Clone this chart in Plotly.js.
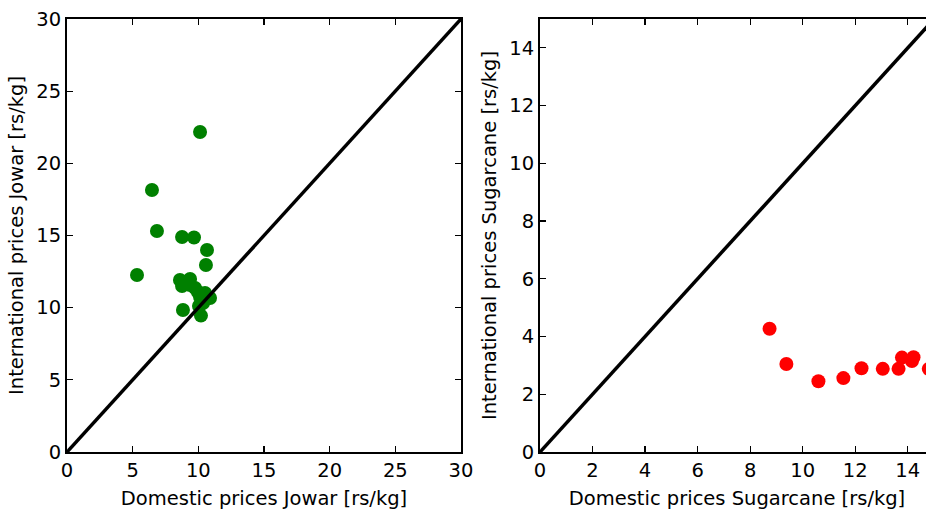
<!DOCTYPE html>
<html>
<head>
<meta charset="utf-8">
<script src="https://cdn.plot.ly/plotly-3.0.1.min.js"></script>
<style>
html, body { margin:0; padding:0; overflow:hidden; background:#fff; width:926px; height:510px; }
#chart { width:1000px; height:510px; }
</style>
</head>
<body>
<div id="chart"></div>
<script>
// Jowar: domestic vs international prices [rs/kg]
const jowarDomestic = [10.13, 6.47, 6.85, 8.76, 9.67, 10.66, 10.58, 5.33,
  8.60, 9.37, 8.76, 9.37, 9.75, 9.97, 10.51, 10.89, 10.13, 10.36, 10.05, 8.83, 10.20];
const jowarInternational = [22.17, 18.15, 15.31, 14.90, 14.86, 14.00, 12.96, 12.26,
  11.92, 11.99, 11.50, 11.57, 11.36, 11.09, 11.02, 10.67, 10.74, 10.32, 10.12, 9.84, 9.45];

// Sugarcane: domestic vs international prices [rs/kg]
const sugarDomestic = [8.74, 9.38, 10.60, 11.55, 12.24, 13.05, 13.65, 13.78, 14.22, 14.16, 14.80];
const sugarInternational = [4.27, 3.05, 2.45, 2.56, 2.90, 2.88, 2.88, 3.27, 3.28, 3.15, 2.88];

// parity line (y = x) across each axis range
const jowarParity = [0, 30];
const sugarParity = [0, 15];

const fontFamily = 'DejaVu Sans, sans-serif';
const traces = [
  { x: jowarDomestic, y: jowarInternational, type: 'scatter', mode: 'markers',
    marker: { color: '#008000', size: 14, line: { width: 0 } }, xaxis: 'x', yaxis: 'y', showlegend: false },
  { x: jowarParity, y: jowarParity, type: 'scatter', mode: 'lines',
    line: { color: '#000', width: 3.5 }, xaxis: 'x', yaxis: 'y', showlegend: false },
  { x: sugarDomestic, y: sugarInternational, type: 'scatter', mode: 'markers',
    marker: { color: '#ff0000', size: 14, line: { width: 0 } }, xaxis: 'x2', yaxis: 'y2', showlegend: false },
  { x: sugarParity, y: sugarParity, type: 'scatter', mode: 'lines',
    line: { color: '#000', width: 3.5 }, xaxis: 'x2', yaxis: 'y2', showlegend: false }
];

const axisBase = {
  showline: true, linecolor: '#000', linewidth: 2, mirror: 'allticks',
  ticks: 'inside', ticklen: 6, tickwidth: 1.2, tickcolor: '#000',
  showgrid: false, zeroline: false,
  tickfont: { family: fontFamily, size: 19.5, color: '#000' }
};
const titleFont = { family: fontFamily, size: 19.5, color: '#000' };

const W = 1000, L = 67, R = W - 934;
const plotW = W - L - R;
const layout = {
  width: W, height: 510,
  margin: { l: L, r: R, t: 19, b: 58 },
  paper_bgcolor: '#fff', plot_bgcolor: '#fff',
  xaxis: Object.assign({}, axisBase, { domain: [0, 394 / plotW], range: [0, 30], dtick: 5, anchor: 'y',
    title: { text: 'Domestic prices Jowar [rs/kg]', font: titleFont, standoff: 10 } }),
  yaxis: Object.assign({}, axisBase, { range: [0, 30], dtick: 5, anchor: 'x',
    title: { text: 'International prices Jowar [rs/kg]', font: titleFont, standoff: 7 } }),
  xaxis2: Object.assign({}, axisBase, { domain: [(540 - L) / plotW, 1], range: [0, 15], dtick: 2, anchor: 'y2',
    title: { text: 'Domestic prices Sugarcane [rs/kg]', font: titleFont, standoff: 10 } }),
  yaxis2: Object.assign({}, axisBase, { range: [0, 15], dtick: 2, anchor: 'x2',
    title: { text: 'International prices Sugarcane [rs/kg]', font: titleFont, standoff: 7 } })
};

Plotly.newPlot('chart', traces, layout, { staticPlot: true, displayModeBar: false });
</script>
</body>
</html>
